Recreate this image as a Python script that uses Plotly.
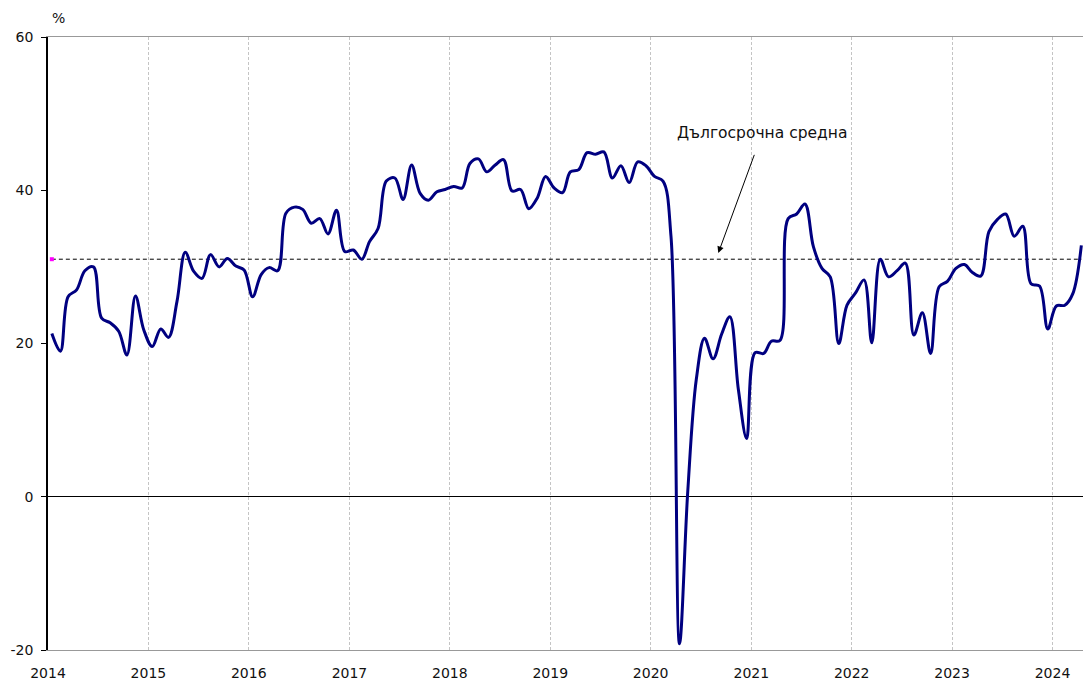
import plotly.graph_objects as go

years = list(range(2014, 2025))
values_2014 = [21.3, 19.0, 26.1, 27.0, 29.5, 30.0, 23.3, 22.7, 21.6, 18.5, 26.2, 21.8]
values_2015 = [19.6, 21.9, 20.8, 25.5, 31.9, 29.4, 28.5, 31.6, 30.0, 31.1, 30.1, 29.6]
values_2016 = [26.1, 29.0, 29.9, 29.5, 37.0, 37.8, 37.5, 35.7, 36.3, 34.3, 37.4, 32.0]
values_2017 = [32.2, 31.0, 33.3, 35.0, 41.2, 41.6, 38.8, 43.3, 39.6, 38.7, 39.8, 40.1]
values_2018 = [40.5, 40.3, 43.5, 44.1, 42.4, 43.3, 44.0, 39.9, 40.1, 37.6, 39.0, 41.8]
values_2019 = [40.3, 39.7, 42.4, 42.7, 44.9, 44.7, 45.0, 41.6, 43.2, 41.0, 43.7, 43.2]
values_2020 = [41.8, 41.2, 34.0, -19.2, 0.7, 15.3, 20.7, 18.0, 21.2, 23.5, 14.0, 7.6]
values_2021 = [18.8, 18.7, 20.3, 20.4, 36.3, 36.9, 38.2, 32.6, 29.8, 28.7, 20.0, 25.0]
values_2022 = [26.6, 28.3, 20.1, 31.0, 28.7, 29.5, 30.5, 21.1, 24.0, 18.7, 27.4, 28.1]
values_2023 = [29.8, 30.3, 29.3, 28.8, 34.6, 36.2, 36.9, 34.0, 35.3, 27.8, 27.5, 21.9]
values_2024 = [24.9, 25.0, 26.5, 32.8]
long_term_mean = 31.0

yearly = [values_2014, values_2015, values_2016, values_2017, values_2018, values_2019,
          values_2020, values_2021, values_2022, values_2023, values_2024]

dates, vals = [], []
for y, arr in zip(years, yearly):
    for m, v in enumerate(arr, start=1):
        dates.append(f"{y}-{m:02d}-15")
        vals.append(v)

year_ticks = [f"{y}-01-01" for y in years]
year_labels = [str(y) for y in years]
y_ticks = [-20, 0, 20, 40, 60]
y_labels = ["-20", "0", "20", "40", "60"]

font_family = "DejaVu Sans"

fig = go.Figure()
fig.add_trace(go.Scatter(
    x=dates, y=[long_term_mean] * len(dates), mode="lines",
    line=dict(color="black", width=1, dash="4px,3px"), hoverinfo="skip", showlegend=False))
fig.add_trace(go.Scatter(
    x=dates, y=vals, mode="lines",
    line=dict(color="#000080", width=3, shape="spline", smoothing=1.0), showlegend=False))
fig.add_trace(go.Scatter(
    x=[dates[0]], y=[long_term_mean], mode="markers",
    marker=dict(symbol="square", size=4, color="#ff00ff", line=dict(width=0)), showlegend=False))

fig.update_layout(
    width=1083, height=681,
    margin=dict(l=48, r=0, t=37, b=31),
    paper_bgcolor="white", plot_bgcolor="white",
    font=dict(family=font_family, size=14, color="#111111"),
    xaxis=dict(
        type="date", range=["2014-01-01", "2024-04-21"],
        tickvals=year_ticks, ticktext=year_labels,
        showgrid=True, gridcolor="#c4c4c4", griddash="3px,2px", gridwidth=1,
        showline=True, linecolor="#999999", linewidth=1, mirror=True,
        ticks="", zeroline=False, ticklabelstandoff=10, automargin=False,
        tickfont=dict(size=14, color="#111111"),
    ),
    yaxis=dict(
        range=[-20, 60], tickvals=y_ticks, ticktext=y_labels,
        showgrid=False, zeroline=True, zerolinecolor="black", zerolinewidth=1,
        showline=True, linecolor="black", linewidth=1.5,
        ticks="outside", ticklen=5, tickcolor="black", ticklabelstandoff=5,
        automargin=False,
        tickfont=dict(size=14, color="#111111"),
    ),
    annotations=[
        dict(text="%", xref="paper", yref="paper", x=0.0, y=1.0, xshift=2, yshift=19,
             xanchor="left", yanchor="middle", showarrow=False,
             font=dict(size=14, color="#111111")),
        dict(text="Дългосрочна средна", x="2020-09-03", y=31.8, xref="x", yref="y",
             ax=44, ay=-120, showarrow=True, arrowhead=2, arrowsize=1.3, arrowwidth=1,
             arrowcolor="black", startstandoff=12,
             font=dict(size=15.5, color="#111111")),
    ],
)

fig.write_html("out.html", config={"displayModeBar": False},
               post_script="document.body.style.margin='0';document.body.style.padding='0';")
